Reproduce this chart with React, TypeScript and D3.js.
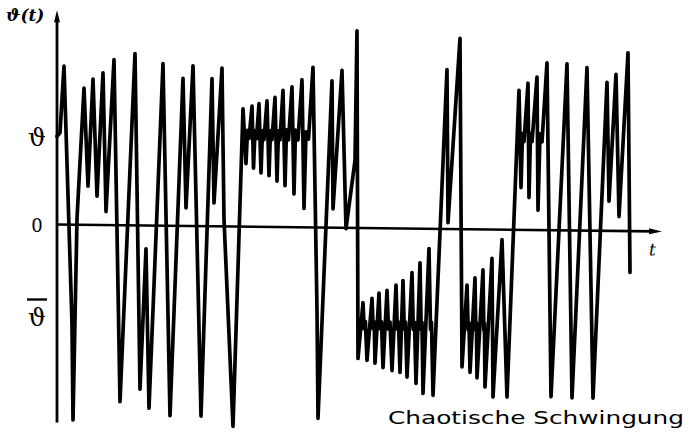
import React from "react";
import * as d3 from "d3";

// time (arbitrary units) and amplitude (in units of the level ϑ)
const timeVals = [
  0, 0.3, 0.7, 1.5, 1.6, 2.0, 2.7, 3.1, 3.6, 4.0, 4.6, 4.9, 5.7, 6.3, 7.8, 8.3, 8.9, 9.2,
  10.6, 11.3, 12.6, 12.9, 13.6, 14.4, 15.5, 15.7, 16.5, 16.7, 17.6,
  18.6, 18.9, 19.05, 19.2, 19.5, 19.65, 19.8, 19.95, 20.2, 20.4, 20.55, 20.7, 21.0, 21.2, 21.35, 21.5,
  21.8, 22.0, 22.15, 22.3, 22.6, 22.8, 22.95, 23.15, 23.5, 23.7, 23.85, 24.1, 24.5, 24.7, 24.9, 25.15, 25.6,
  26.0, 26.1, 27.5, 27.6, 28.5, 28.9, 29.8, 30.0,
  30.1, 30.6, 30.72, 30.84, 31.0, 31.5, 31.62, 31.72, 31.8, 32.2, 32.32, 32.45, 32.6, 33.0, 33.15, 33.3,
  33.5, 33.9, 34.03, 34.15, 34.3, 34.6, 34.73, 34.85, 35.0, 35.5, 35.63, 35.75, 35.9, 36.3, 36.42, 36.5,
  36.6, 37.2, 37.35, 37.45, 37.6,
  39.0, 39.1, 40.3,
  40.5, 41.0, 41.12, 41.2, 41.3, 41.8, 41.88, 41.94, 42.0, 42.6, 42.68, 42.74, 42.8, 43.5, 43.6, 44.5, 45.0,
  46.2, 46.4, 46.55, 46.7, 47.1, 47.2, 47.35, 47.5, 48.0, 48.1, 48.3, 48.5, 49.0,
  49.4, 51.0, 51.5, 53.0, 53.6, 55.0, 55.2, 55.9, 56.2, 57.1, 57.3,
];
const ampVals = [
  0.98, 1.02, 1.76, -1.1, -2.17, 0.07, 1.52, 0.43, 1.62, 0.32, 1.69, 0.15, 1.84, -1.96, 1.91, -1.82, -0.26, -2.03,
  1.8, -2.11, 1.64, 0.2, 1.78, -2.11, 1.64, 0.26, 1.76, 0.08, -2.22,
  1.31, 0.7, 1.07, 0.98, 1.34, 0.65, 1.07, 0.98, 1.37, 0.6, 1.07, 0.97, 1.4, 0.57, 1.07, 0.97,
  1.44, 0.51, 1.07, 0.97, 1.52, 0.46, 1.08, 0.97, 1.56, 0.37, 1.08, 0.97, 1.64, 0.21, 1.06, 0.98, 1.78,
  -0.92, -2.12, 1.63, 0.21, 1.75, -0.01, 0.75, 2.19,
  -1.45, -0.83, -1.12, -1.04, -1.47, -0.78, -1.12, -1.04, -1.5, -0.72, -1.12, -1.04, -1.55, -0.69, -1.12, -1.04,
  -1.58, -0.63, -1.12, -1.04, -1.6, -0.58, -1.12, -1.04, -1.65, -0.49, -1.12, -1.04, -1.72, -0.38, -1.12, -1.04,
  -1.83, -0.22, -1.12, -1.04, -1.85,
  1.77, 0.07, 2.12,
  -1.53, -0.62, -1.12, -1.04, -1.59, -0.54, -1.12, -1.04, -1.65, -0.45, -1.12, -1.04, -1.75, -0.32, -1.86, -0.11, -1.86,
  1.55, 0.47, 1.07, 0.98, 1.63, 0.36, 1.07, 0.98, 1.7, 0.22, 1.07, 0.98, 1.86,
  -1.85, 1.85, -1.86, 1.81, -1.86, 1.65, 0.33, 1.74, 0.16, 1.98, -0.46,
];

const tickValues = [1, 0, -1];
const tickLabels = ["ϑ", "0", "ϑ"];
const tickOverline = [false, false, true];

const yAxisLabel = "ϑ(t)";
const xAxisLabel = "t";
const caption = "Chaotische Schwingung";

const W = 694;
const H = 446;

export default function App() {
  const x = d3.scaleLinear().domain([0, 60.5]).range([57, 662]);
  const y = d3.scaleLinear().domain([-1, 1]).range([314.5, 134.5]);
  const idx = d3.range(timeVals.length);
  const line = d3
    .line<number>()
    .x((i) => x(timeVals[i]))
    .y((i) => y(ampVals[i]));

  const x0 = x(0);
  const y0 = y(0);
  const yTop = y(2.38);
  const yBot = y(-2.2);
  const xEnd = x(60.5);

  return (
    <svg
      width={W}
      height={H}
      viewBox={`0 0 ${W} ${H}`}
      style={{ position: "absolute", left: 0, top: 0, background: "#fff" }}
    >
      <rect width={W} height={H} fill="#fff" />
      <g transform={`translate(${x0},${y0}) skewY(0.66) translate(${-x0},${-y0})`}>
        {/* y axis */}
        <line x1={x0} x2={x0} y1={yBot} y2={yTop + 8} stroke="#000" strokeWidth={2.8} />
        <path d={`M${x0},${yTop} L${x0 - 3},${yTop + 12} L${x0 + 3},${yTop + 12} Z`} fill="#000" />
        {/* x axis */}
        <line x1={x0} x2={xEnd - 8} y1={y0} y2={y0} stroke="#000" strokeWidth={2.6} />
        <path d={`M${xEnd},${y0} L${xEnd - 13},${y0 - 3} L${xEnd - 13},${y0 + 3} Z`} fill="#000" />
        {/* signal */}
        <path
          d={line(idx) || ""}
          fill="none"
          stroke="#000"
          strokeWidth={3.7}
          strokeLinejoin="round"
          strokeLinecap="round"
        />
        <text
          x={xEnd - 13}
          y={y0 + 24}
          fontFamily="DejaVu Serif"
          fontStyle="italic"
          fontSize={17}
          fill="#000"
        >
          {xAxisLabel}
        </text>
      </g>
      {tickValues.map((v, i) => (
        <g key={i}>
          <text
            x={37}
            y={y(v) + (tickLabels[i] === "0" ? 7 : 11)}
            textAnchor="middle"
            fontFamily="DejaVu Serif"
            fontSize={tickLabels[i] === "0" ? 18 : 25}
            fill="#000"
          >
            {tickLabels[i]}
          </text>
          {tickOverline[i] && (
            <line x1={27} x2={47} y1={y(v) - 15} y2={y(v) - 15} stroke="#000" strokeWidth={2.4} />
          )}
        </g>
      ))}
      <text
        x={6}
        y={21}
        fontFamily="DejaVu Serif"
        fontStyle="italic"
        fontWeight="bold"
        fontSize={17}
        fill="#000"
      >
        {yAxisLabel}
      </text>
      <text
        x={388}
        y={424}
        fontFamily="DejaVu Sans"
        fontSize={18}
        textLength={296}
        lengthAdjust="spacingAndGlyphs"
        fill="#000"
      >
        {caption}
      </text>
    </svg>
  );
}
